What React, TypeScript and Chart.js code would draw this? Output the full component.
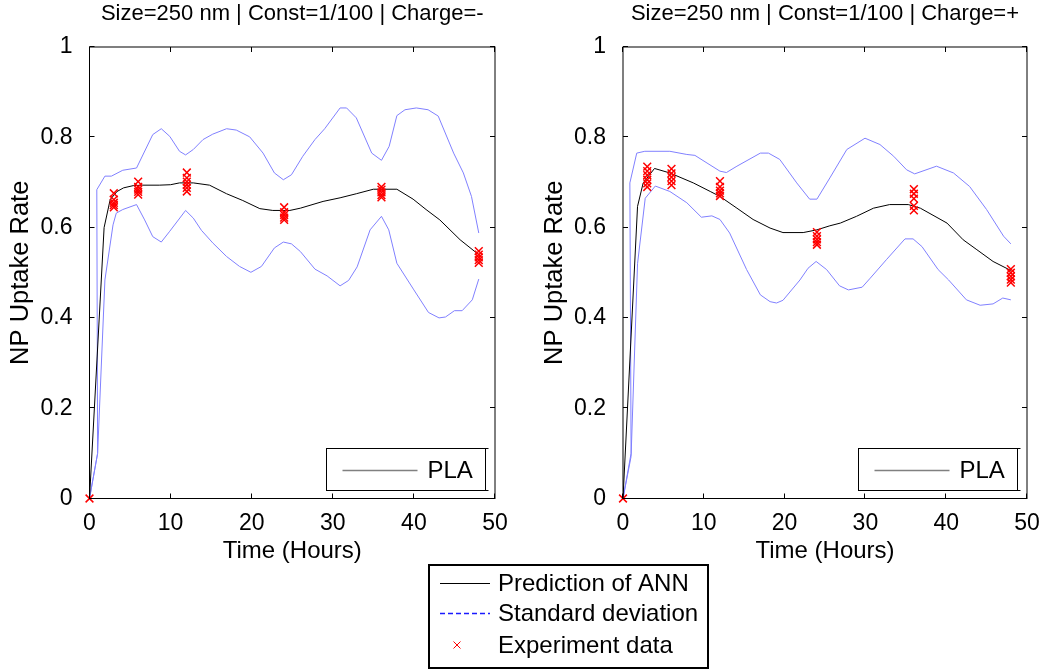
import React, { useEffect, useRef } from "react";
import { Chart, registerables } from "chart.js";
Chart.register(...registerables);

const FONT = '"Liberation Sans", Arial, Helvetica, sans-serif';
const FS = 22;
const FS_TICK = 23;
const FS_LABEL = 24;
const FS_YLABEL = 25.5;
const FS_LEGEND = 24;

const TITLES = ["Size=250 nm | Const=1/100 | Charge=-", "Size=250 nm | Const=1/100 | Charge=+"];
const X_LABEL = "Time (Hours)";
const Y_LABEL = "NP Uptake Rate";
const X_TICKS = [0, 10, 20, 30, 40, 50];
const X_TICK_LABELS = ["0", "10", "20", "30", "40", "50"];
const Y_TICKS = [0, 0.2, 0.4, 0.6, 0.8, 1];
const Y_TICK_LABELS = ["0", "0.2", "0.4", "0.6", "0.8", "1"];
const INNER_LEGEND = "PLA";
const SERIES_NAMES = ["Prediction of ANN", "Standard deviation", "Experiment data"];

// ---- Left panel (Charge = -) ----
const meanTimeL = [0, 1.8, 2.55, 3.4, 4.2, 5.4, 6.5, 8.6, 10, 11.1, 12.8, 14.8, 16.9, 18.9, 21, 22.6, 24.7, 26, 28.8, 30.9, 32.9, 35, 37.9, 39.9, 41.5, 43.2, 45.7, 48];
const meanL = [0, 0.6, 0.662, 0.68, 0.688, 0.693, 0.694, 0.694, 0.695, 0.699, 0.699, 0.694, 0.675, 0.66, 0.642, 0.638, 0.638, 0.643, 0.658, 0.666, 0.675, 0.685, 0.685, 0.663, 0.64, 0.617, 0.573, 0.54];
const upTimeL = [0, 1.0, 0.9, 1.9, 2.7, 4.1, 5.8, 7.8, 8.85, 9.9, 11.1, 11.85, 12.8, 14, 15.2, 16.9, 18.1, 19.75, 21.4, 22.8, 23.9, 24.9, 26.3, 27.8, 29, 30.9, 31.7, 32.9, 34.8, 36, 36.95, 37.9, 38.9, 40.3, 41.75, 43, 44.9, 46.1, 47.1, 48];
const upL = [0, 0.1, 0.684, 0.714, 0.714, 0.727, 0.732, 0.806, 0.819, 0.802, 0.769, 0.761, 0.773, 0.795, 0.807, 0.819, 0.816, 0.801, 0.765, 0.721, 0.706, 0.717, 0.758, 0.795, 0.819, 0.865, 0.865, 0.843, 0.765, 0.749, 0.78, 0.848, 0.861, 0.865, 0.861, 0.847, 0.765, 0.721, 0.669, 0.588];
const loTimeL = [0, 1.0, 1.9, 2.9, 3.3, 4.1, 5.8, 6.8, 7.8, 8.85, 9.9, 11.85, 12.8, 13.8, 15.2, 16.9, 18.5, 19.9, 21.2, 22.8, 23.9, 24.9, 26, 27.8, 29.3, 30.9, 31.95, 33, 34.6, 36, 36.9, 37.9, 40, 41.8, 43.1, 43.9, 45, 45.95, 47.2, 48];
const loL = [0, 0.1, 0.484, 0.606, 0.632, 0.64, 0.651, 0.617, 0.58, 0.568, 0.592, 0.638, 0.621, 0.594, 0.566, 0.536, 0.514, 0.501, 0.514, 0.555, 0.568, 0.564, 0.547, 0.508, 0.493, 0.471, 0.483, 0.513, 0.595, 0.625, 0.595, 0.521, 0.462, 0.412, 0.4, 0.402, 0.416, 0.416, 0.44, 0.486];

// ---- Right panel (Charge = +) ----
const meanTimeR = [0, 1.8, 2.5, 3.9, 5.8, 8.7, 10.8, 12, 14.1, 16.1, 18.2, 19.8, 22.3, 24, 25.6, 26.9, 28.9, 31, 33, 35.3, 36.8, 40.1, 42.1, 43.8, 45.8, 48];
const meanR = [0, 0.647, 0.699, 0.731, 0.721, 0.699, 0.68, 0.669, 0.643, 0.618, 0.599, 0.589, 0.589, 0.595, 0.604, 0.61, 0.625, 0.643, 0.651, 0.651, 0.643, 0.61, 0.573, 0.551, 0.525, 0.505];
const upTimeR = [0, 1.0, 0.85, 1.7, 2.7, 5.8, 7.9, 8.9, 10.4, 12, 12.8, 14.1, 17, 18, 19.4, 21.5, 23.1, 24, 25.6, 27.7, 29.95, 31.8, 33.5, 35.1, 36.1, 38.8, 40.9, 42.9, 45, 47.1, 48];
const upR = [0, 0.1, 0.699, 0.765, 0.769, 0.769, 0.762, 0.76, 0.743, 0.725, 0.722, 0.736, 0.765, 0.765, 0.751, 0.699, 0.663, 0.663, 0.71, 0.773, 0.798, 0.784, 0.758, 0.728, 0.719, 0.736, 0.721, 0.691, 0.64, 0.581, 0.564];
const loTimeR = [0, 1.0, 1.8, 2.75, 4.0, 5.8, 7.9, 9.7, 11, 12, 13.2, 15.3, 17, 18.2, 19, 19.8, 21.9, 22.9, 23.9, 25.2, 26.8, 27.9, 29.6, 30.6, 32.6, 34.9, 35.9, 37, 39, 40.3, 42.5, 44.2, 45.8, 47, 48];
const loR = [0, 0.093, 0.52, 0.665, 0.692, 0.68, 0.655, 0.623, 0.626, 0.618, 0.588, 0.507, 0.451, 0.436, 0.433, 0.439, 0.484, 0.51, 0.525, 0.507, 0.471, 0.462, 0.468, 0.488, 0.529, 0.575, 0.575, 0.558, 0.507, 0.484, 0.44, 0.428, 0.431, 0.444, 0.44];

// ---- Experiment data ----
const expTimes = [0, 3, 6, 12, 24, 36, 48];
const expL = [
  [0],
  [0.676, 0.662, 0.655, 0.65, 0.645],
  [0.702, 0.69, 0.684, 0.679, 0.673],
  [0.722, 0.71, 0.702, 0.695, 0.688, 0.68],
  [0.645, 0.634, 0.628, 0.622, 0.617],
  [0.69, 0.684, 0.678, 0.672, 0.667],
  [0.548, 0.54, 0.534, 0.528, 0.522],
];
const expR = [
  [0],
  [0.735, 0.725, 0.716, 0.706, 0.698, 0.69],
  [0.73, 0.72, 0.712, 0.703, 0.694],
  [0.703, 0.69, 0.682, 0.676, 0.67],
  [0.59, 0.581, 0.574, 0.568, 0.562],
  [0.685, 0.675, 0.664, 0.648, 0.638],
  [0.508, 0.5, 0.492, 0.485, 0.478],
];

const BAND_COLOR = "#8080ff";
const MEAN_COLOR = "#000000";
const EXP_COLOR = "#ff0000";

const W = 1051;
const H = 670;

const pts = (t: number[], y: number[]) => t.map((x, i) => ({ x, y: y[i] }));

const framePlugin = {
  id: "frame",
  afterDraw(chart: any, _args: any, opts: any) {
    const ctx = chart.ctx;
    const { left, right, top, bottom } = chart.chartArea;
    const xs = chart.scales.x;
    const ys = chart.scales.y;
    ctx.save();
    ctx.strokeStyle = "#000";
    ctx.lineWidth = 1;
    ctx.strokeRect(left, top, right - left, bottom - top);
    const L = 5;
    ctx.beginPath();
    xs.ticks.forEach((t: any) => {
      const px = Math.round(xs.getPixelForValue(t.value)) - 0.5;
      ctx.moveTo(px, bottom);
      ctx.lineTo(px, bottom - L);
      ctx.moveTo(px, top);
      ctx.lineTo(px, top + L);
    });
    ys.ticks.forEach((t: any) => {
      const py = Math.round(ys.getPixelForValue(t.value)) - 0.5;
      ctx.moveTo(left, py);
      ctx.lineTo(left + L, py);
      ctx.moveTo(right, py);
      ctx.lineTo(right - L, py);
    });
    ctx.stroke();

    // title
    ctx.fillStyle = "#000";
    ctx.font = `${FS}px ${FONT}`;
    ctx.textAlign = "center";
    ctx.textBaseline = "middle";
    ctx.fillText(opts.title, (left + right) / 2, 14);

    // inner legend
    const x1 = Math.round(right - 169) + 0.5;
    const x2 = Math.round(right - 10.5) + 0.5;
    const y1 = Math.round(bottom - 51) + 0.5;
    const y2 = Math.round(bottom - 8.5) + 0.5;
    ctx.strokeStyle = "#000";
    ctx.lineWidth = 1;
    ctx.strokeRect(x1, y1, x2 - x1, y2 - y1);
    ctx.beginPath();
    ctx.moveTo(x1, y1); ctx.lineTo(x1 + 3, y1);
    ctx.moveTo(x1, y2); ctx.lineTo(x1 + 3, y2);
    ctx.moveTo(x2, y1); ctx.lineTo(x2 + 3, y1);
    ctx.moveTo(x2, y2); ctx.lineTo(x2 + 3, y2);
    ctx.stroke();
    const ly = Math.round((y1 + y2) / 2) + 0.5;
    ctx.strokeStyle = "#808080";
    ctx.lineWidth = 1.5;
    ctx.beginPath();
    ctx.moveTo(x1 + 16, ly);
    ctx.lineTo(x1 + 91, ly);
    ctx.stroke();
    ctx.fillStyle = "#000";
    ctx.textAlign = "left";
    ctx.font = `${FS_LEGEND}px ${FONT}`;
    ctx.fillText(INNER_LEGEND, x1 + 101, ly + 1);

    if (opts.bottomLegend) {
      const bx = 429, by = 565, bw = 279, bh = 103;
      ctx.strokeStyle = "#000";
      ctx.lineWidth = 2;
      ctx.strokeRect(bx, by, bw, bh);
      const rows = [583.5, 613.5, 645];
      ctx.lineWidth = 1.2;
      // mean
      ctx.strokeStyle = MEAN_COLOR;
      ctx.beginPath();
      ctx.moveTo(440, rows[0]);
      ctx.lineTo(490, rows[0]);
      ctx.stroke();
      // std dashed
      ctx.strokeStyle = "#1a1aff";
      ctx.lineWidth = 1.5;
      ctx.setLineDash([5, 3]);
      ctx.beginPath();
      ctx.moveTo(440, rows[1]);
      ctx.lineTo(490, rows[1]);
      ctx.stroke();
      ctx.setLineDash([]);
      // marker
      ctx.strokeStyle = EXP_COLOR;
      ctx.lineWidth = 1;
      ctx.beginPath();
      const mx = 457, my = rows[2], r = 3.5;
      ctx.moveTo(mx - r, my - r); ctx.lineTo(mx + r, my + r);
      ctx.moveTo(mx - r, my + r); ctx.lineTo(mx + r, my - r);
      ctx.stroke();
      ctx.fillStyle = "#000";
      ctx.textAlign = "left";
      ctx.textBaseline = "middle";
      ctx.font = `${FS_LEGEND}px ${FONT}`;
      SERIES_NAMES.forEach((s, i) => ctx.fillText(s, 498, rows[i] + 1));
    }
    ctx.restore();
  },
};

function makeChart(canvas: HTMLCanvasElement, p: any) {
  const expPts: { x: number; y: number }[] = [];
  expTimes.forEach((t, i) => p.exp[i].forEach((v: number) => expPts.push({ x: t, y: v })));
  return new Chart(canvas, {
    type: "line",
    data: {
      datasets: [
        {
          label: SERIES_NAMES[2],
          data: expPts,
          showLine: false,
          pointStyle: "crossRot",
          pointRadius: 5.5,
          pointBorderWidth: 1.5,
          borderColor: EXP_COLOR,
          backgroundColor: EXP_COLOR,
          clip: false,
        } as any,
        {
          label: SERIES_NAMES[0],
          data: pts(p.meanT, p.meanY),
          borderColor: MEAN_COLOR,
          borderWidth: 1,
          pointRadius: 0,
          tension: 0,
        },
        {
          label: SERIES_NAMES[1],
          data: pts(p.upT, p.upY),
          borderColor: BAND_COLOR,
          borderWidth: 1,
          pointRadius: 0,
          tension: 0,
        },
        {
          label: SERIES_NAMES[1] + " (lower)",
          data: pts(p.loT, p.loY),
          borderColor: BAND_COLOR,
          borderWidth: 1,
          pointRadius: 0,
          tension: 0,
        },
      ],
    },
    options: {
      responsive: false,
      animation: false,
      devicePixelRatio: 1,
      layout: { padding: { top: 47, bottom: 0, left: p.padLeft, right: p.padRight } },
      plugins: {
        legend: { display: false },
        tooltip: { enabled: false },
        title: { display: false },
        frame: { title: p.title, bottomLegend: p.bottomLegend },
      } as any,
      scales: {
        x: {
          type: "linear",
          min: 0,
          max: 50,
          grid: { display: false },
          border: { display: false },
          afterBuildTicks: (s: any) => { s.ticks = X_TICKS.map((v) => ({ value: v })); },
          afterFit: (s: any) => { s.height = 171.5; },
          ticks: {
            color: "#000",
            font: { family: FONT, size: FS_TICK },
            padding: 3.5,
            maxRotation: 0,
            callback: (v: any) => X_TICK_LABELS[X_TICKS.indexOf(Number(v))] ?? "",
          },
          title: {
            display: true,
            text: X_LABEL,
            color: "#000",
            font: { family: FONT, size: FS_LABEL },
            padding: { top: 0, bottom: 104.6 },
          },
        },
        y: {
          type: "linear",
          min: 0,
          max: 1,
          grid: { display: false },
          border: { display: false },
          afterBuildTicks: (s: any) => { s.ticks = Y_TICKS.map((v) => ({ value: v })); },
          afterFit: (s: any) => { s.width = 89.5; },
          ticks: {
            color: "#000",
            font: { family: FONT, size: FS_TICK },
            padding: 9,
            callback: (v: any) => {
              const i = Y_TICKS.findIndex((t) => Math.abs(t - Number(v)) < 1e-9);
              return i >= 0 ? Y_TICK_LABELS[i] : "";
            },
          },
          title: {
            display: true,
            text: Y_LABEL,
            color: "#000",
            font: { family: FONT, size: FS_YLABEL },
            padding: { top: 5.7, bottom: 0 },
          },
        },
      },
    },
    plugins: [framePlugin],
  } as any);
}

export default function App() {
  const leftRef = useRef<HTMLCanvasElement>(null);
  const rightRef = useRef<HTMLCanvasElement>(null);
  useEffect(() => {
    const c1 = makeChart(leftRef.current!, {
      title: TITLES[0],
      meanT: meanTimeL, meanY: meanL,
      upT: upTimeL, upY: upL,
      loT: loTimeL, loY: loL,
      exp: expL,
      padLeft: 0,
      padRight: W - 495,
      bottomLegend: true,
    });
    const c2 = makeChart(rightRef.current!, {
      title: TITLES[1],
      meanT: meanTimeR, meanY: meanR,
      upT: upTimeR, upY: upR,
      loT: loTimeR, loY: loR,
      exp: expR,
      padLeft: 623 - 89.5,
      padRight: W - 1027,
      bottomLegend: false,
    });
    return () => {
      c1.destroy();
      c2.destroy();
    };
  }, []);
  const cs: React.CSSProperties = { position: "absolute", left: 0, top: 0, width: W, height: H };
  return (
    <div style={{ position: "fixed", left: 0, top: 0, width: W, height: H, background: "#fff", overflow: "hidden" }}>
      <canvas ref={leftRef} width={W} height={H} style={cs} />
      <canvas ref={rightRef} width={W} height={H} style={cs} />
    </div>
  );
}
